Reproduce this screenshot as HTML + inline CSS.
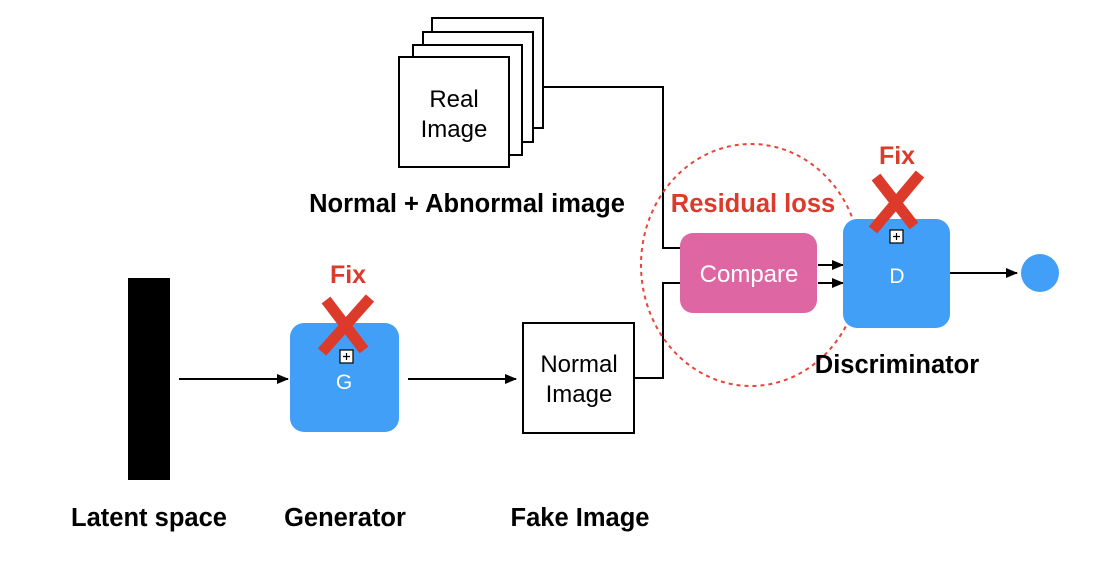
<!DOCTYPE html>
<html><head><meta charset="utf-8"><style>
html,body{margin:0;padding:0;background:#fff;}
svg{display:block;}
text{font-family:"Liberation Sans",Arial,sans-serif;}
</style></head><body>
<svg width="1097" height="569" viewBox="0 0 1097 569" xmlns="http://www.w3.org/2000/svg">
<defs>
<marker id="a" markerWidth="12" markerHeight="10" refX="11" refY="5" orient="auto" markerUnits="userSpaceOnUse">
<path d="M0,0 L12,5 L0,10 Z" fill="#000"/></marker>
</defs>
<rect x="432" y="18" width="111" height="110" fill="#fff" stroke="#000" stroke-width="2"/>
<rect x="423" y="32" width="110" height="110" fill="#fff" stroke="#000" stroke-width="2"/>
<rect x="413" y="45" width="109" height="110" fill="#fff" stroke="#000" stroke-width="2"/>
<rect x="399" y="57" width="110" height="110" fill="#fff" stroke="#000" stroke-width="2"/>
<text x="454" y="107" font-size="24" text-anchor="middle">Real</text>
<text x="454" y="137" font-size="24" text-anchor="middle">Image</text>
<text x="467" y="212" font-size="25.5" font-weight="bold" text-anchor="middle">Normal + Abnormal image</text>
<polyline points="543,87 663,87 663,248 680,248" fill="none" stroke="#000" stroke-width="2"/>
<polyline points="634,378 663,378 663,283 680,283" fill="none" stroke="#000" stroke-width="2"/>
<line x1="179" y1="379" x2="288" y2="379" stroke="#000" stroke-width="2" marker-end="url(#a)"/>
<line x1="408" y1="379" x2="516" y2="379" stroke="#000" stroke-width="2" marker-end="url(#a)"/>
<line x1="818" y1="265" x2="843" y2="265" stroke="#000" stroke-width="2" marker-end="url(#a)"/>
<line x1="818" y1="283" x2="843" y2="283" stroke="#000" stroke-width="2" marker-end="url(#a)"/>
<line x1="950" y1="273" x2="1017" y2="273" stroke="#000" stroke-width="2" marker-end="url(#a)"/>
<circle cx="1040" cy="273" r="19" fill="#419ff7"/>
<rect x="128" y="278" width="42" height="202" fill="#000"/>
<text x="149" y="526" font-size="25.5" font-weight="bold" text-anchor="middle">Latent space</text>
<rect x="290" y="323" width="109" height="109" rx="14" fill="#419ff7"/>
<text x="344" y="389" font-size="21" fill="#fff" text-anchor="middle">G</text>
<text x="345" y="526" font-size="25.5" font-weight="bold" text-anchor="middle">Generator</text>
<text x="348" y="283" font-size="25" font-weight="bold" fill="#dc3b2c" text-anchor="middle">Fix</text>
<g stroke="#dc3b2c" stroke-width="11" stroke-linecap="butt">
<line x1="326" y1="300" x2="364" y2="350"/><line x1="370" y1="298" x2="322" y2="352"/></g>
<rect x="340" y="350" width="13" height="13" fill="#fff" stroke="#000" stroke-width="1.2"/>
<path d="M343,356.5 H350 M346.5,353 V360" stroke="#000" stroke-width="1.2"/>
<rect x="523" y="323" width="111" height="110" fill="#fff" stroke="#000" stroke-width="2"/>
<text x="579" y="372" font-size="24" text-anchor="middle">Normal</text>
<text x="579" y="402" font-size="24" text-anchor="middle">Image</text>
<text x="580" y="526" font-size="25.5" font-weight="bold" text-anchor="middle">Fake Image</text>
<rect x="680" y="233" width="137" height="80" rx="13" fill="#de67a3"/>
<text x="749" y="282" font-size="24" fill="#fff" text-anchor="middle">Compare</text>
<ellipse cx="751" cy="265" rx="110" ry="121" fill="none" stroke="#e8453a" stroke-width="2" stroke-dasharray="4,4"/>
<text x="753" y="212" font-size="25.5" font-weight="bold" fill="#dc3b2c" text-anchor="middle">Residual loss</text>
<rect x="843" y="219" width="107" height="109" rx="14" fill="#419ff7"/>
<text x="897" y="283" font-size="21" fill="#fff" text-anchor="middle">D</text>
<text x="897" y="373" font-size="25.5" font-weight="bold" text-anchor="middle">Discriminator</text>
<text x="897" y="164" font-size="25" font-weight="bold" fill="#dc3b2c" text-anchor="middle">Fix</text>
<g stroke="#dc3b2c" stroke-width="11" stroke-linecap="butt">
<line x1="876" y1="177" x2="914" y2="226"/><line x1="920" y1="174" x2="873" y2="230"/></g>
<rect x="890" y="230" width="13" height="13" fill="#fff" stroke="#000" stroke-width="1.2"/>
<path d="M893,236.5 H900 M896.5,233 V240" stroke="#000" stroke-width="1.2"/>
</svg>
</body></html>
